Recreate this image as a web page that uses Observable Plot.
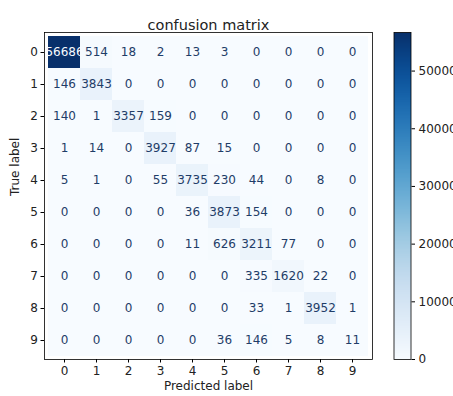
<!DOCTYPE html>
<html>
<head>
<meta charset="utf-8">
<script src="https://cdn.jsdelivr.net/npm/d3@7"></script>
<script src="https://cdn.jsdelivr.net/npm/@observablehq/plot@0.6"></script>
<style>
  html, body { margin: 0; padding: 0; background: #fff; }
  #wrap { position: relative; width: 453px; height: 396px; overflow: hidden; background: #fff; font-family: "DejaVu Sans", sans-serif; }
  #wrap > svg { position: absolute; top: 0; }
</style>
</head>
<body>
<div id="wrap"></div>
<script>
const trueLabels = [0, 1, 2, 3, 4, 5, 6, 7, 8, 9];
const predictedLabels = [0, 1, 2, 3, 4, 5, 6, 7, 8, 9];
const matrix = [
  [56686, 514, 18, 2, 13, 3, 0, 0, 0, 0],
  [146, 3843, 0, 0, 0, 0, 0, 0, 0, 0],
  [140, 1, 3357, 159, 0, 0, 0, 0, 0, 0],
  [1, 14, 0, 3927, 87, 15, 0, 0, 0, 0],
  [5, 1, 0, 55, 3735, 230, 44, 0, 8, 0],
  [0, 0, 0, 0, 36, 3873, 154, 0, 0, 0],
  [0, 0, 0, 0, 11, 626, 3211, 77, 0, 0],
  [0, 0, 0, 0, 0, 0, 335, 1620, 22, 0],
  [0, 0, 0, 0, 0, 0, 33, 1, 3952, 1],
  [0, 0, 0, 0, 0, 36, 146, 5, 8, 11]
];
const colorbarTicks = [0, 10000, 20000, 30000, 40000, 50000];
const titleText = "confusion matrix";
const xLabel = "Predicted label";
const yLabel = "True label";

const cells = [];
trueLabels.forEach((t, i) => predictedLabels.forEach((p, j) => cells.push({t, p, v: matrix[i][j]})));
const vmin = d3.min(cells, d => d.v);
const vmax = d3.max(cells, d => d.v);
const thresh = (vmin + vmax) / 2;

const font = "DejaVu Sans, sans-serif";
const ink = "#222";

const main = Plot.plot({
  width: 453, height: 396,
  marginLeft: 44, marginRight: 81, marginTop: 32, marginBottom: 37,
  style: {fontFamily: font, fontSize: "12px", color: ink, background: "transparent", overflow: "visible"},
  x: {type: "band", domain: predictedLabels, padding: 0},
  y: {type: "band", domain: trueLabels, padding: 0},
  color: {type: "linear", scheme: "blues", domain: [vmin, vmax]},
  marks: [
    Plot.cell(cells, {x: "p", y: "t", fill: "v"}),
    Plot.text(cells, {x: "p", y: "t", text: d => String(d.v), fill: d => d.v > thresh ? "#f7fbff" : "#1f3d68", fontSize: 12}),
    Plot.frame({stroke: "#000", strokeWidth: 0.8}),
    Plot.axisX({anchor: "bottom", tickSize: 3.5, tickPadding: 3, label: null, fontSize: 12, stroke: "#000"}),
    Plot.axisY({anchor: "left", tickSize: 3.5, tickPadding: 3, label: null, fontSize: 12, stroke: "#000"}),
    Plot.text([titleText], {frameAnchor: "top", dy: -13, fontSize: 14.5, fill: ink}),
    Plot.text([xLabel], {frameAnchor: "bottom", dy: 30, fontSize: 12, fill: ink}),
    Plot.text([yLabel], {frameAnchor: "left", dx: -29, rotate: -90, fontSize: 12, fill: ink})
  ]
});
main.style.left = "0px";
document.getElementById("wrap").appendChild(main);

const bar = Plot.plot({
  width: 150, height: 396,
  marginLeft: 0.5, marginRight: 150 - 17.5, marginTop: 32, marginBottom: 37,
  style: {fontFamily: font, fontSize: "12px", color: ink, background: "transparent", overflow: "visible"},
  x: {domain: [0, 1], axis: null},
  y: {domain: [vmin, vmax], axis: null},
  color: {type: "linear", scheme: "blues", domain: [vmin, vmax]},
  marks: [
    Plot.raster({x1: 0, x2: 1, y1: vmin, y2: vmax, width: 1, height: 400, fill: (x, y) => y, imageRendering: "auto"}),
    Plot.frame({stroke: "#000", strokeWidth: 0.8}),
    Plot.axisY(colorbarTicks, {anchor: "right", tickSize: 3.5, tickPadding: 4, tickFormat: "d", label: null, fontSize: 12, stroke: "#000"})
  ]
});
bar.style.left = "393px";
document.getElementById("wrap").appendChild(bar);
</script>
</body>
</html>
